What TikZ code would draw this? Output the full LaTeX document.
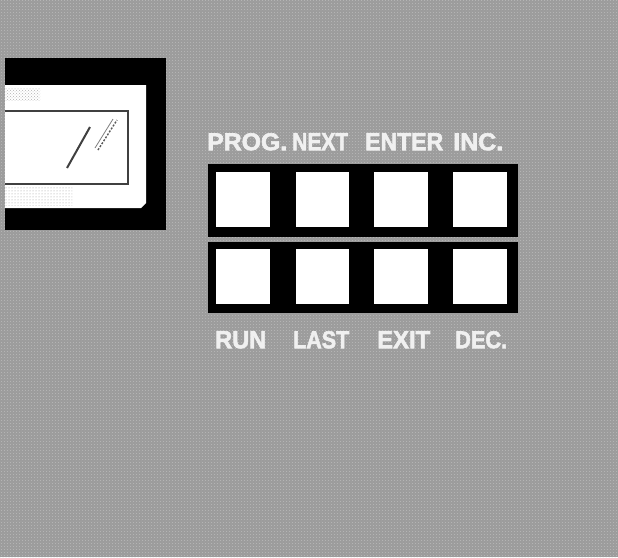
\documentclass[tikz,border=0pt]{standalone}
\usepackage{fontspec}
\setmainfont{Liberation Sans}
\newfontfamily\heavyfont{Liberation Sans}[BoldFeatures={FakeBold=2.5}]
\usepackage{graphicx}
\usetikzlibrary{patterns}
\definecolor{bg}{RGB}{156,156,156}
\definecolor{lbltext}{RGB}{240,240,240}
\begin{document}
\begin{tikzpicture}[x=1pt,y=-1pt,
  panel/.style={fill=black,draw=none},
  key/.style={fill=white,draw=none},
  lbl/.style={text=lbltext,inner sep=0pt,anchor=north west,font=\heavyfont\bfseries}]
\useasboundingbox (0,0) rectangle (618,557);
% background
\fill[bg] (0,0) rectangle (618,557);
\fill[pattern=crosshatch dots,pattern color=white!80!gray,opacity=0.4] (0,0) rectangle (618,557);
\fill[pattern=dots,pattern color=black!60,opacity=0.25] (0,0) rectangle (618,557);
% display
\fill[black] (5,58) rectangle (166,230);
\fill[white] (5,85) -- (146,85) -- (146,203) -- (141,208) -- (5,208) -- cycle;
\fill[pattern=dots,pattern color=gray!80] (5,186) rectangle (72,205);
\fill[pattern=crosshatch dots,pattern color=gray!60] (5,88) rectangle (40,100);
\draw[black!75,line width=1.2pt] (5,111) -- (128,111) -- (128,184) -- (5,184);
\draw[black!75,line width=2pt] (67,168) -- (90,127);
\draw[black!65,line width=1.4pt,dash pattern=on 2pt off 1.5pt] (98,150) -- (117,120);
\draw[black!50,line width=0.8pt] (95,148) -- (113,119);
% button panels
\fill[panel] (208,164) rectangle (518,237);
\fill[panel] (208,242) rectangle (518,313);
\foreach \x/\w [count=\i] in {216/270,296/349,374/428,453/507}{
  \node[key,inner sep=0pt,minimum width={\w-\x},minimum height=55,anchor=north west] (t\i) at (\x,172) {};
  \node[key,inner sep=0pt,minimum width={\w-\x},minimum height=55,anchor=north west] (b\i) at (\x,249) {};
}
% labels
\node[lbl] (lprog)  at (207,133) {\resizebox{80pt}{17pt}{PROG.}};
\node[lbl] (lnext)  at (292,133) {\resizebox{56pt}{17pt}{NEXT}};
\node[lbl] (lenter) at (365,133) {\resizebox{78pt}{17pt}{ENTER}};
\node[lbl] (linc)   at (453,133) {\resizebox{50pt}{17pt}{INC.}};
\node[lbl] (lrun)   at (215,331) {\resizebox{51pt}{17pt}{RUN}};
\node[lbl] (llast)  at (293,331) {\resizebox{56pt}{17pt}{LAST}};
\node[lbl] (lexit)  at (377,331) {\resizebox{53pt}{17pt}{EXIT}};
\node[lbl] (ldec)   at (455,331) {\resizebox{52pt}{17pt}{DEC.}};
\end{tikzpicture}
\end{document}
